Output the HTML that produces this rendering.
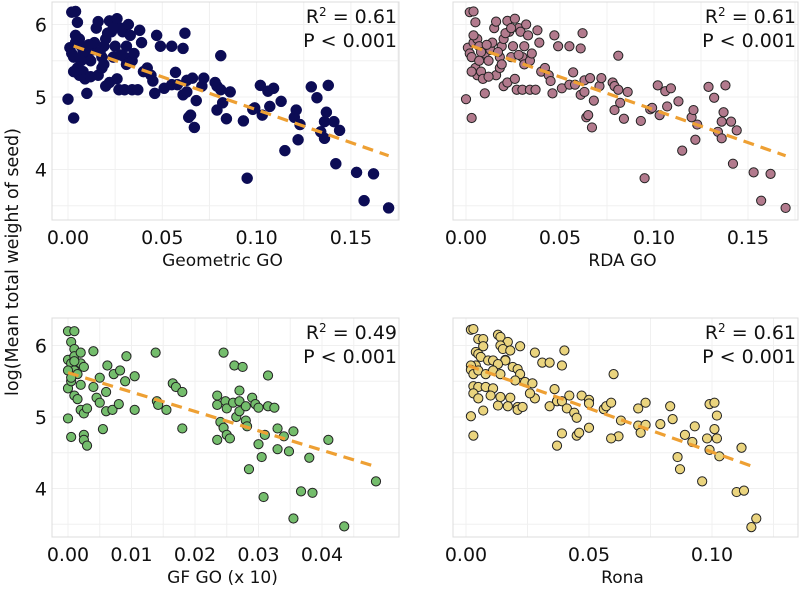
<!DOCTYPE html>
<html><head><meta charset="utf-8"><style>
html,body{margin:0;padding:0;background:#fff;}
svg{display:block;font-family:"DejaVu Sans","Liberation Sans",sans-serif;}
</style></head><body>
<svg id="chart" width="800" height="590" viewBox="0 0 800 590">
<text x="0" y="0" transform="translate(18,262) rotate(-90)" text-anchor="middle" font-size="17.5" fill="#111">log(Mean total weight of seed)</text>
</svg>
<script>
// ---- data ----
const geoX = [0.000,0.003,0.002,0.004,0.005,0.001,0.002,0.003,0.004,0.006,0.007,0.005,0.006,0.008,0.009,0.010,0.010,0.012,0.013,0.014,0.015,0.016,0.016,0.018,0.018,0.019,0.020,0.020,0.022,0.022,0.023,0.024,0.025,0.026,0.027,0.026,0.028,0.029,0.030,0.031,0.031,0.032,0.033,0.030,0.034,0.034,0.035,0.037,0.038,0.039,0.040,0.042,0.044,0.047,0.045,0.046,0.049,0.051,0.055,0.055,0.057,0.058,0.061,0.062,0.061,0.063,0.063,0.064,0.065,0.066,0.067,0.068,0.071,0.072,0.079,0.078,0.079,0.081,0.081,0.082,0.084,0.086,0.093,0.095,0.098,0.099,0.102,0.103,0.106,0.107,0.109,0.113,0.115,0.120,0.121,0.122,0.123,0.129,0.132,0.134,0.136,0.136,0.137,0.138,0.141,0.142,0.144,0.153,0.157,0.162,0.170,0.004,0.008,0.011,0.017,0.021,0.024,0.028,0.003,0.007,0.012,0.019];
const geoY = [4.97,4.71,6.17,6.18,6.03,5.68,5.60,5.55,5.75,5.80,5.70,5.40,5.30,5.35,5.25,5.05,5.60,5.50,5.65,5.75,5.95,6.04,5.30,5.40,5.55,5.70,5.80,5.15,5.20,6.05,5.90,5.55,5.70,5.25,5.10,6.08,5.95,5.90,5.55,5.45,5.70,6.00,5.85,5.10,5.50,5.10,5.60,5.10,5.92,5.75,5.35,5.40,5.30,5.85,5.22,5.05,5.70,5.12,5.70,5.17,5.34,5.17,5.67,5.88,5.03,5.23,5.07,4.72,4.75,5.26,4.58,4.95,5.15,5.26,4.82,5.20,5.15,5.10,5.57,4.92,4.70,5.07,4.67,3.88,4.83,4.85,5.16,4.75,5.08,4.87,5.12,4.94,4.26,4.72,4.82,4.41,4.62,5.14,4.99,4.52,4.66,4.43,4.79,5.16,4.66,4.08,4.54,3.96,3.57,3.94,3.47,5.85,5.62,5.72,5.62,5.88,5.95,5.58,5.35,5.50,5.28,5.45];
const gfX = [0.000,0.0005,0.000,0.001,0.0005,0.001,0.000,0.0005,0.001,0.001,0.000,0.000,0.0005,0.001,0.0015,0.002,0.002,0.002,0.0025,0.002,0.0025,0.003,0.0025,0.0025,0.003,0.004,0.004,0.0045,0.005,0.005,0.0055,0.006,0.006,0.0062,0.007,0.0072,0.008,0.0082,0.009,0.0092,0.0105,0.0105,0.0138,0.014,0.0142,0.0155,0.0165,0.017,0.018,0.018,0.0235,0.0235,0.0235,0.024,0.0245,0.0248,0.0245,0.025,0.025,0.0255,0.026,0.0262,0.0265,0.027,0.027,0.027,0.0275,0.028,0.028,0.0282,0.0285,0.029,0.0295,0.030,0.030,0.0305,0.0308,0.031,0.0315,0.0315,0.0325,0.033,0.033,0.034,0.0348,0.0355,0.0355,0.0367,0.038,0.0385,0.041,0.0435,0.0485,0.0015,0.0005,0.001];
const gfY = [4.98,4.72,6.20,6.20,6.05,5.95,5.80,5.75,5.85,5.65,5.65,5.40,5.50,5.30,5.25,5.45,5.75,5.90,5.70,5.10,5.05,5.12,4.75,4.68,4.60,5.92,5.42,5.27,5.20,5.55,4.83,5.08,5.35,5.72,5.10,5.60,5.18,5.65,5.50,5.85,5.10,5.57,5.90,5.22,5.17,5.10,5.47,5.42,4.84,5.35,5.30,5.17,4.68,4.93,4.85,5.22,5.90,4.75,5.12,4.70,5.20,5.72,5.00,5.08,5.22,5.37,5.70,5.15,4.95,4.87,4.27,5.27,5.18,5.13,4.62,4.44,3.88,4.75,5.58,5.15,5.13,4.84,4.55,4.73,4.52,3.58,4.80,3.96,4.43,3.94,4.68,3.47,4.10,5.60,5.55,5.78];
const ronaX = [0.002,0.003,0.005,0.007,0.007,0.013,0.014,0.017,0.022,0.014,0.015,0.018,0.016,0.016,0.004,0.005,0.006,0.009,0.011,0.013,0.004,0.002,0.002,0.003,0.005,0.008,0.011,0.014,0.019,0.021,0.022,0.020,0.024,0.027,0.028,0.031,0.034,0.040,0.039,0.003,0.005,0.008,0.011,0.003,0.005,0.010,0.013,0.014,0.018,0.017,0.021,0.021,0.023,0.028,0.026,0.007,0.002,0.003,0.036,0.037,0.034,0.039,0.041,0.042,0.044,0.045,0.047,0.050,0.050,0.050,0.039,0.037,0.045,0.046,0.056,0.057,0.059,0.060,0.063,0.062,0.059,0.070,0.073,0.070,0.071,0.073,0.079,0.083,0.084,0.086,0.087,0.089,0.093,0.092,0.098,0.099,0.101,0.102,0.101,0.102,0.099,0.103,0.096,0.112,0.110,0.113,0.118,0.116];
const ronaY = [6.22,6.23,6.09,6.09,5.99,6.15,6.12,6.05,5.99,6.00,5.95,5.93,5.80,5.79,5.91,5.88,5.84,5.79,5.79,5.74,5.72,5.72,5.66,5.60,5.65,5.60,5.65,5.60,5.70,5.67,5.60,5.51,5.49,5.47,5.90,5.76,5.76,5.93,5.72,5.43,5.42,5.42,5.40,5.33,5.26,5.30,5.16,5.28,5.27,5.15,5.14,5.10,5.14,5.26,5.33,5.09,5.01,4.74,5.39,5.22,5.15,5.22,5.12,5.30,5.06,4.99,5.30,5.24,5.19,4.85,4.77,4.60,4.74,4.78,5.11,5.15,5.20,5.60,4.95,4.73,4.70,5.12,5.20,4.88,4.78,4.89,4.90,5.15,4.97,4.44,4.27,4.75,4.87,4.65,4.70,5.18,5.20,5.02,4.83,4.70,4.54,4.45,4.10,4.57,3.95,3.97,3.58,3.46];
const xTicksGeo = [0, 0.05, 0.10, 0.15];
const xTickLabelsGeo = ["0.00","0.05","0.10","0.15"];
const xTicksGF = [0, 0.01, 0.02, 0.03, 0.04];
const xTickLabelsGF = ["0.00","0.01","0.02","0.03","0.04"];
const xTicksRona = [0, 0.05, 0.10];
const xTickLabelsRona = ["0.00","0.05","0.10"];
const yTicks = [4, 5, 6];
const yTickLabels = ["4","5","6"];
const fitGeo = [5.73, -9.06, 0.003, 0.170];
const fitGF = [5.62, -27.1, 0.000, 0.048];
const fitRona = [5.73, -12.2, 0.001, 0.118];

const NS = "http://www.w3.org/2000/svg";
const svg = document.getElementById("chart");
function mk(tag, attrs, parent) {
  const e = document.createElementNS(NS, tag);
  for (const k in attrs) e.setAttribute(k, attrs[k]);
  (parent || svg).appendChild(e);
  return e;
}

function panel(p) {
  const g = mk("g", {});
  
  
  const xs = v => p.x0 + (v - 0) * p.xs;
  const ys = v => p.y5 - (v - 5) * p.ys;
  const minorX = [];
  for (let i = 0; i < p.ticks.length; i++) { minorX.push(p.ticks[i]); minorX.push(p.ticks[i] + (p.ticks[1]-p.ticks[0])/2); }
  minorX.unshift(p.ticks[0] - (p.ticks[1]-p.ticks[0])/2);
  minorX.forEach(t => {
    const X = xs(t);
    if (X > p.L && X < p.R) mk("line", {x1:X, x2:X, y1:p.T, y2:p.B, stroke:"#f0f0f0", "stroke-width":1}, g);
  });
  [3.5,4,4.5,5,5.5,6].forEach(t => {
    const Y = ys(t);
    if (Y > p.T && Y < p.B) mk("line", {x1:p.L, x2:p.R, y1:Y, y2:Y, stroke:"#f0f0f0", "stroke-width":1}, g);
  });
  const box = mk("rect", {x:p.L, y:p.T, width:p.R-p.L, height:p.B-p.T, fill:"none", stroke:"#dcdcdc", "stroke-width":1}, g);
  
  
  p.ticks.forEach((t, i) => {
    const tx = mk("text", {x:xs(t), y:p.B+24, "text-anchor":"middle", "font-size":19, fill:"#111"}, g);
    tx.textContent = p.tickLabels[i];
    
    
  });
  if (p.showY) {
    yTicks.forEach((t, i) => {
      const ty = mk("text", {x:p.L-5, y:ys(t)+7, "text-anchor":"end", "font-size":19, fill:"#111"}, g);
      ty.textContent = yTickLabels[i];
      
      
    });
  }
  const xt = mk("text", {x:(p.L+p.R)/2 - 3, y:p.B+46, "text-anchor":"middle", "font-size":17, fill:"#111"}, g);
  xt.textContent = p.xtitle;
  
  
  p.X.forEach((v, i) => {
    const c = mk("circle", {cx:xs(v), cy:ys(p.Y[i]), r:p.r, fill:p.fill, stroke:p.stroke, "stroke-width":p.sw}, g);
    
    
  });
  const f = p.fit;
  const ln = mk("line", {x1:xs(f[2]), y1:ys(f[0]+f[1]*f[2]), x2:xs(f[3]), y2:ys(f[0]+f[1]*f[3]), stroke:"#eea033", "stroke-width":3.2, "stroke-dasharray":"11,7"}, g);
  
  
  const a1 = mk("text", {x:p.R-2, y:p.T+21, "text-anchor":"end", "font-size":19, fill:"#111"}, g);
  a1.innerHTML = 'R<tspan baseline-shift="super" font-size="12">2</tspan> = ' + p.r2;
  
  
  const a2 = mk("text", {x:p.R-2, y:p.T+45, "text-anchor":"end", "font-size":19, fill:"#111"}, g);
  a2.textContent = "P < 0.001";
  
  
}

panel({name:"geometric-go-panel", L:52, R:399, T:2, B:220, x0:68, xs:94.3/0.05, y5:97, ys:72.5,
  ticks:xTicksGeo, tickLabels:xTickLabelsGeo, showY:true, xtitle:"Geometric GO",
  X:geoX, Y:geoY, r:5.5, fill:"#0c0c55", stroke:"#0c0c55", sw:0.5, fit:fitGeo, r2:"0.61"});
panel({name:"rda-go-panel", L:453, R:798, T:2, B:220, x0:466, xs:94/0.05, y5:97, ys:72.5,
  ticks:xTicksGeo, tickLabels:xTickLabelsGeo, showY:false, xtitle:"RDA GO",
  X:geoX, Y:geoY, r:4.6, fill:"#b27a8d", stroke:"#222", sw:1, fit:fitGeo, r2:"0.61"});
panel({name:"gf-go-panel", L:52, R:399, T:318, B:537, x0:68, xs:63.5/0.01, y5:417, ys:71.5,
  ticks:xTicksGF, tickLabels:xTickLabelsGF, showY:true, xtitle:"GF GO (x 10)",
  X:gfX, Y:gfY, r:4.6, fill:"#74bd6c", stroke:"#222", sw:1, fit:fitGF, r2:"0.49"});
panel({name:"rona-panel", L:453, R:798, T:318, B:537, x0:466, xs:123/0.05, y5:417, ys:71.5,
  ticks:xTicksRona, tickLabels:xTickLabelsRona, showY:false, xtitle:"Rona",
  X:ronaX, Y:ronaY, r:4.6, fill:"#ead47e", stroke:"#222", sw:1, fit:fitRona, r2:"0.61"});
</script>
</body></html>
